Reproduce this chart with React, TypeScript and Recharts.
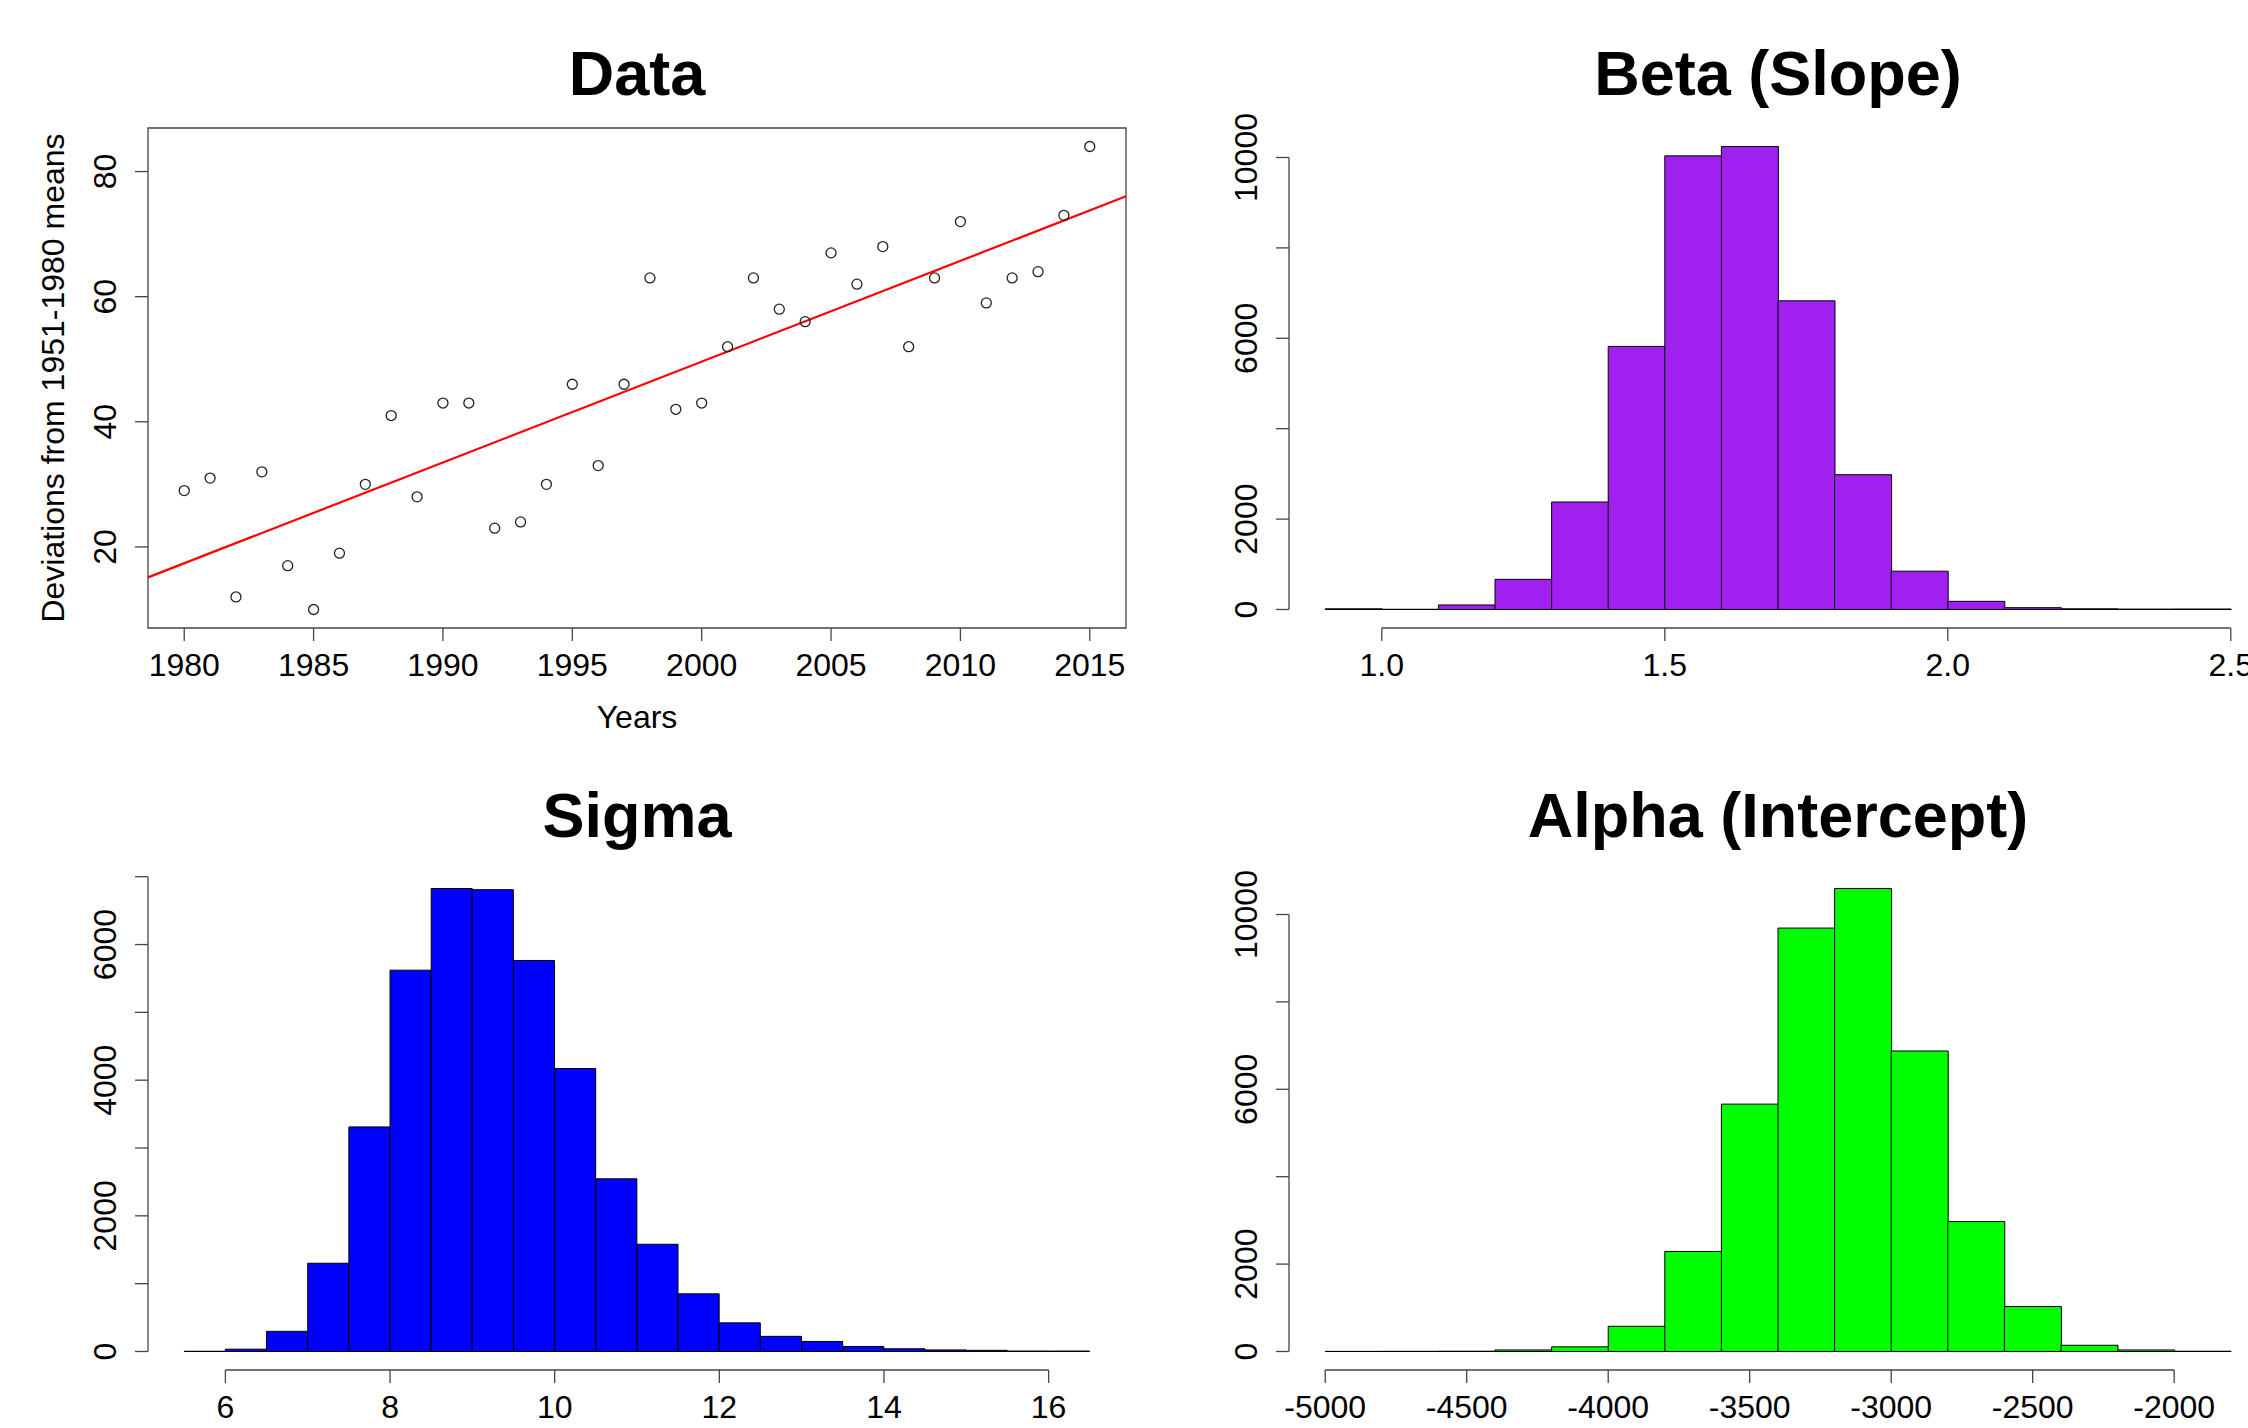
import React from "react";
import {Bar, BarChart, ReferenceArea, ReferenceLine, Scatter, ScatterChart, XAxis, YAxis} from "recharts";

// ---- data panel: yearly deviations ----
const years = [1980, 1981, 1982, 1983, 1984, 1985, 1986, 1987, 1988, 1989, 1990, 1991, 1992, 1993, 1994, 1995, 1996, 1997,
    1998, 1999, 2000, 2001, 2002, 2003, 2004, 2005, 2006, 2007, 2008, 2009, 2010, 2011, 2012, 2013, 2014, 2015];
const deviations = [29, 31, 12, 32, 17, 10, 19, 30, 41, 28, 43, 43, 23, 24, 30, 46, 33, 46,
    63, 42, 43, 52, 63, 58, 56, 67, 62, 68, 52, 63, 72, 59, 63, 64, 73, 84];
const yearTicks = [1980, 1985, 1990, 1995, 2000, 2005, 2010, 2015];
const devTicks = [20, 40, 60, 80];

// ---- posterior histograms ----
const betaBreaks = [0.9, 1.0, 1.1, 1.2, 1.3, 1.4, 1.5, 1.6, 1.7, 1.8, 1.9, 2.0, 2.1, 2.2, 2.3, 2.4, 2.5];
const betaCounts = [15, 4, 100, 667, 2378, 5820, 10036, 10243, 6829, 2982, 847, 180, 40, 15, 8, 10];
const betaXTicks = [1.0, 1.5, 2.0, 2.5];
const betaYTicks = [0, 2000, 4000, 6000, 8000, 10000];
const betaYLabels = [0, 2000, 6000, 10000];

const sigmaBreaks = [5.5, 6, 6.5, 7, 7.5, 8, 8.5, 9, 9.5, 10, 10.5, 11, 11.5, 12, 12.5, 13, 13.5, 14, 14.5, 15, 15.5, 16, 16.5];
const sigmaCounts = [3, 34, 297, 1301, 3311, 5622, 6826, 6809, 5765, 4172, 2546, 1581, 850, 422, 223, 148, 74, 40, 23, 17, 6, 6];
const sigmaXTicks = [6, 8, 10, 12, 14, 16];
const sigmaYTicks = [0, 1000, 2000, 3000, 4000, 5000, 6000, 7000];
const sigmaYLabels = [0, 2000, 4000, 6000];

const alphaBreaks = [-5000, -4800, -4600, -4400, -4200, -4000, -3800, -3600, -3400, -3200, -3000, -2800, -2600, -2400, -2200, -2000, -1800];
const alphaCounts = [2, 3, 6, 35, 106, 577, 2289, 5661, 9690, 10595, 6877, 2973, 1029, 142, 35, 5];
const alphaXTicks = [-5000, -4500, -4000, -3500, -3000, -2500, -2000];
const alphaYTicks = [0, 2000, 4000, 6000, 8000, 10000];
const alphaYLabels = [0, 2000, 6000, 10000];

const PANEL_W = 1141;
const PANEL_H = 742;
const LEFT = 148;
const RIGHT = 15;
const TOP = 128;
const X_H = 114;
const PLOT_W = PANEL_W - LEFT - RIGHT;
const FONT = "'Liberation Sans', Arial, Helvetica, sans-serif";
const AX = "#444";

// R style 4% axis extension
const pad4 = (lo: number, hi: number) => [lo - 0.04 * (hi - lo), hi + 0.04 * (hi - lo)];

const xTick = (fmt: (v: number) => string) => (props: any) => (
    <text x={props.x} y={props.y} dy="0.71em" textAnchor="middle" fontFamily={FONT} fontSize={32} fill="#000">
        {fmt(props.payload.value)}
    </text>
);

const yTick = (shown: number[] | null) => (props: any) => {
    const v = props.payload.value;
    if (shown && !shown.includes(v)) return <g/>;
    return (
        <text x={props.x} y={props.y} transform={`rotate(-90 ${props.x} ${props.y})`} textAnchor="middle"
              fontFamily={FONT} fontSize={32} fill="#000">
            {v}
        </text>
    );
};

interface PanelProps {
    left: number,
    top: number,
    title: string,
    xLabel?: string,
    yLabel?: string,
    children: React.ReactNode
}

const Panel = ({left, top, title, xLabel, yLabel, children}: PanelProps) => {
    const cx = LEFT + PLOT_W / 2;
    const cy = TOP + (PANEL_H - TOP - X_H) / 2;
    return (
        <div style={{position: "absolute", left, top, width: PANEL_W, height: PANEL_H}}>
            {children}
            <svg width={PANEL_W} height={PANEL_H} style={{position: "absolute", left: 0, top: 0, pointerEvents: "none"}}>
                <text x={cx} y={95} textAnchor="middle" fontFamily={FONT} fontWeight="bold" fontSize={63}>{title}</text>
                {xLabel && <text x={cx} y={728} textAnchor="middle" fontFamily={FONT} fontSize={32}>{xLabel}</text>}
                {yLabel && <text x={64} y={cy} transform={`rotate(-90 64 ${cy})`} textAnchor="middle"
                                 fontFamily={FONT} fontSize={32}>{yLabel}</text>}
            </svg>
        </div>
    );
};

const DataPanel = () => {
    const points = years.map((y, i) => ({year: y, value: deviations[i]}));
    const [xlo, xhi] = pad4(Math.min(...years), Math.max(...years));
    const [ylo, yhi] = pad4(Math.min(...deviations), Math.max(...deviations));

    // least squares fit, like abline(lm(...))
    const n = years.length;
    const mx = years.reduce((a, b) => a + b, 0) / n;
    const my = deviations.reduce((a, b) => a + b, 0) / n;
    let sxy = 0, sxx = 0;
    years.forEach((y, i) => {
        sxy += (y - mx) * (deviations[i] - my);
        sxx += (y - mx) * (y - mx);
    });
    const slope = sxy / sxx;
    const intercept = my - slope * mx;

    return (
        <ScatterChart width={PANEL_W} height={PANEL_H} margin={{top: TOP, right: RIGHT, left: 0, bottom: 0}}>
            <XAxis dataKey="year" type="number" domain={[xlo, xhi]} allowDataOverflow ticks={yearTicks}
                   axisLine={false} tickSize={13} tickMargin={12} tickLine={{stroke: AX, strokeWidth: 1.3}}
                   tick={xTick(v => String(v))} height={X_H} interval={0}/>
            <YAxis dataKey="value" type="number" domain={[ylo, yhi]} allowDataOverflow ticks={devTicks}
                   axisLine={false} tickSize={13} tickMargin={19} tickLine={{stroke: AX, strokeWidth: 1.3}}
                   tick={yTick(null)} width={LEFT} interval={0}/>
            <ReferenceArea x1={xlo} x2={xhi} y1={ylo} y2={yhi} fill="none" fillOpacity={0} stroke={AX}
                           strokeWidth={1.3} ifOverflow="visible"/>
            <Scatter data={points} isAnimationActive={false}
                     shape={(p: any) => <circle cx={p.cx} cy={p.cy} r={5} fill="none" stroke="#222" strokeWidth={1.3}/>}/>
            <ReferenceLine segment={[{x: xlo, y: intercept + slope * xlo}, {x: xhi, y: intercept + slope * xhi}]}
                           stroke="#ff0000" strokeWidth={2.2} ifOverflow="visible"/>
        </ScatterChart>
    );
};

interface HistProps {
    breaks: number[],
    counts: number[],
    fill: string,
    xTicks: number[],
    yTicks: number[],
    yLabels: number[],
    fmt: (v: number) => string
}

const Hist = ({breaks, counts, fill, xTicks, yTicks, yLabels, fmt}: HistProps) => {
    const rows = counts.map((c, i) => ({bin: String(breaks[i]), mid: (breaks[i] + breaks[i + 1]) / 2, count: c}));
    const [xlo, xhi] = pad4(breaks[0], breaks[breaks.length - 1]);
    const [ylo, yhi] = pad4(0, Math.max(...counts));
    const pad = PLOT_W * 0.04 / 1.08;

    return (
        <BarChart width={PANEL_W} height={PANEL_H} data={rows} barCategoryGap={0} barGap={0}
                  margin={{top: TOP, right: RIGHT, left: 0, bottom: 0}}>
            <XAxis xAxisId="num" dataKey="mid" type="number" domain={[xlo, xhi]} allowDataOverflow ticks={xTicks}
                   interval={0} axisLine={false} tickSize={13} tickMargin={12}
                   tickLine={{stroke: AX, strokeWidth: 1.3}} tick={xTick(fmt)} height={X_H}/>
            <XAxis xAxisId="cat" dataKey="bin" hide height={0} padding={{left: pad, right: pad}}/>
            <YAxis type="number" domain={[ylo, yhi]} allowDataOverflow ticks={yTicks} interval={0}
                   axisLine={false} tickSize={13} tickMargin={19} tickLine={{stroke: AX, strokeWidth: 1.3}}
                   tick={yTick(yLabels)} width={LEFT}/>
            <ReferenceLine xAxisId="num" segment={[{x: xTicks[0], y: ylo}, {x: xTicks[xTicks.length - 1], y: ylo}]}
                           stroke={AX} strokeWidth={1.3} ifOverflow="visible"/>
            <ReferenceLine xAxisId="num" segment={[{x: xlo, y: yTicks[0]}, {x: xlo, y: yTicks[yTicks.length - 1]}]}
                           stroke={AX} strokeWidth={1.3} ifOverflow="visible"/>
            <Bar xAxisId="cat" dataKey="count" fill={fill} stroke="#000" strokeWidth={1} isAnimationActive={false}/>
        </BarChart>
    );
};

const App = () => {
    return (
        <div style={{position: "absolute", left: 0, top: 0, width: 2248, height: 1428, overflow: "hidden", background: "#fff"}}>
            <Panel left={0} top={0} title="Data" xLabel="Years" yLabel="Deviations from 1951-1980 means">
                <DataPanel/>
            </Panel>
            <Panel left={1141} top={0} title="Beta (Slope)">
                <Hist breaks={betaBreaks} counts={betaCounts} fill="#a020f0" xTicks={betaXTicks} yTicks={betaYTicks}
                      yLabels={betaYLabels} fmt={v => v.toFixed(1)}/>
            </Panel>
            <Panel left={0} top={742} title="Sigma">
                <Hist breaks={sigmaBreaks} counts={sigmaCounts} fill="#0000ff" xTicks={sigmaXTicks} yTicks={sigmaYTicks}
                      yLabels={sigmaYLabels} fmt={v => String(v)}/>
            </Panel>
            <Panel left={1141} top={742} title="Alpha (Intercept)">
                <Hist breaks={alphaBreaks} counts={alphaCounts} fill="#00ff00" xTicks={alphaXTicks} yTicks={alphaYTicks}
                      yLabels={alphaYLabels} fmt={v => String(v)}/>
            </Panel>
        </div>
    );
};

export default App;
